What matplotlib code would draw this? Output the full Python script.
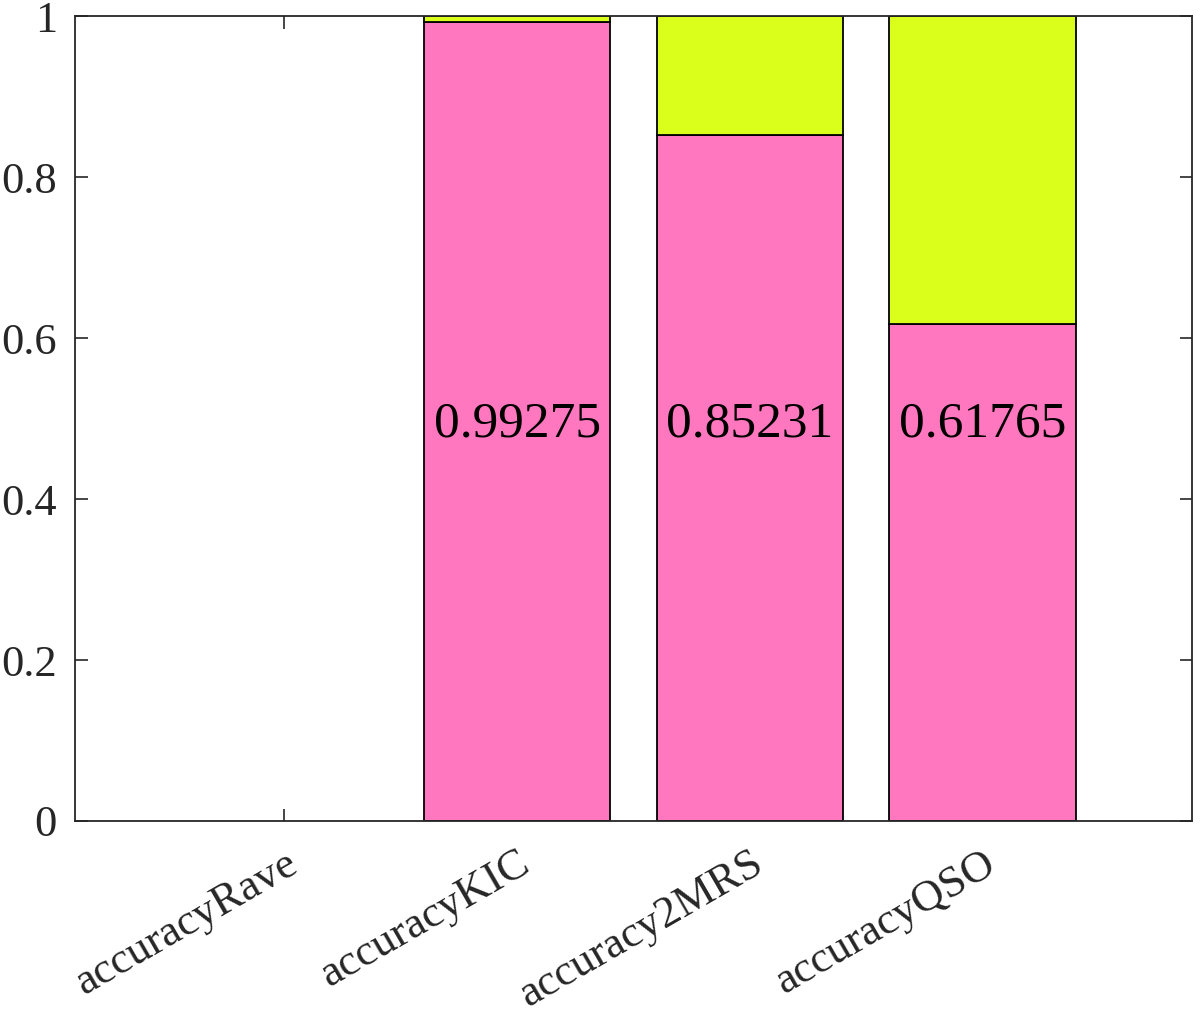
import matplotlib
matplotlib.use("Agg")
import matplotlib.pyplot as plt
import numpy as np

categories = ["accuracyRave", "accuracyKIC", "accuracy2MRS", "accuracyQSO"]
correct = [0.0, 0.99275, 0.85231, 0.61765]
incorrect = [0.0, 0.00725, 0.14769, 0.38235]
labels = ["", "0.99275", "0.85231", "0.61765"]

plt.rcParams['font.family'] = ['Liberation Serif', 'DejaVu Serif']

fig = plt.figure(figsize=(12, 10.13), dpi=100)
ax = fig.add_axes([75/1200, 1 - 821/1013, (1192-75)/1200, (821-16)/1013])

x = np.arange(1, len(categories) + 1)
pink = "#FF77BF"
yellow = "#DAFF1A"
for xi, c, ic in zip(x, correct, incorrect):
    if c + ic > 0:
        ax.bar(xi, c, width=0.8, color=pink, edgecolor="black", linewidth=1.3, zorder=2)
        ax.bar(xi, ic, bottom=c, width=0.8, color=yellow, edgecolor="black", linewidth=1.3, zorder=2)
for xi, lab in zip(x, labels):
    if lab:
        ax.text(xi, 0.5, lab, ha="center", va="center_baseline", fontsize=37, color="black", zorder=3)

ax.set_xlim(0.1, 4.9)
ax.set_ylim(0, 1)
ax.set_xticks(x)
ax.set_xticklabels(categories, rotation=30, ha="right", rotation_mode="anchor")
ax.set_yticks([0, 0.2, 0.4, 0.6, 0.8, 1])
ax.set_yticklabels(["0", "0.2", "0.4", "0.6", "0.8", "1"])
ax.tick_params(direction="in", length=9, width=1.2, color="#262626", labelsize=32,
               labelcolor="#262626", top=True, right=True)
ax.tick_params(axis="y", pad=13)
ax.tick_params(axis="x", pad=16)
for s in ax.spines.values():
    s.set_color("#262626")
    s.set_linewidth(1.3)
    s.set_zorder(4)

fig.savefig("out.png", dpi=100)
